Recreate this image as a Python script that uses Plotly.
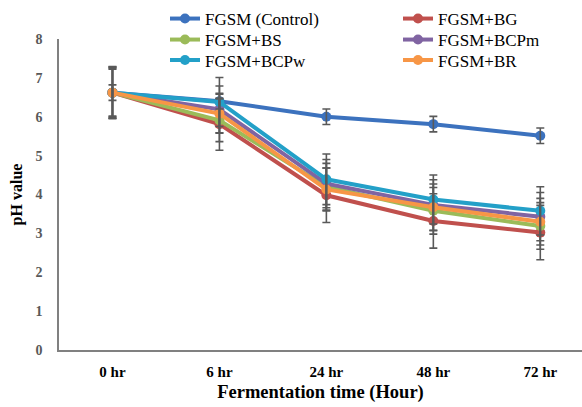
import plotly.graph_objects as go

categories = ["0 hr", "6 hr", "24 hr", "48 hr", "72 hr"]
series_names = ["FGSM (Control)", "FGSM+BG", "FGSM+BS", "FGSM+BCPm", "FGSM+BCPw", "FGSM+BR"]
control = [6.62, 6.40, 6.00, 5.81, 5.51]
bg = [6.62, 5.81, 3.98, 3.32, 3.02]
bs = [6.62, 5.91, 4.20, 3.58, 3.19]
bcpm = [6.62, 6.19, 4.28, 3.73, 3.43]
bcpw = [6.62, 6.38, 4.39, 3.87, 3.58]
br = [6.62, 6.08, 4.13, 3.67, 3.30]
err_control = [0.20, 0.20, 0.20, 0.20, 0.20]
err_bg = [0.67, 0.67, 0.70, 0.70, 0.70]
err_bs = [0.60, 0.55, 0.60, 0.60, 0.60]
err_bcpm = [0.65, 0.60, 0.62, 0.65, 0.62]
err_bcpw = [0.66, 0.63, 0.65, 0.63, 0.62]
err_br = [0.62, 0.50, 0.55, 0.60, 0.60]
y_ticks = [0, 1, 2, 3, 4, 5, 6, 7, 8]

values = [control, bg, bs, bcpm, bcpw, br]
errors = [err_control, err_bg, err_bs, err_bcpm, err_bcpw, err_br]
colors = ["#3C72BE", "#C0504D", "#9BBB59", "#8064A2", "#23A0C8", "#F79646"]

FONT = "Liberation Serif"
fig = go.Figure()
legend_ids = ["legend"] + [f"legend{i}" for i in range(2, 7)]
for name, vals, col, lg in zip(series_names, values, colors, legend_ids):
    fig.add_trace(go.Scatter(
        x=categories, y=vals, name=name, mode="lines+markers", legend=lg,
        line=dict(color=col, width=4), marker=dict(color=col, size=10),
    ))
for vals, errs in zip(values, errors):
    fig.add_trace(go.Scatter(
        x=categories, y=vals, mode="markers", showlegend=False, hoverinfo="skip",
        marker=dict(size=1, opacity=0),
        error_y=dict(type="data", array=errs, visible=True, color="#595959", thickness=1.6, width=4),
    ))

# legend placement: two columns, three rows
plot_left, plot_w, plot_top, plot_h = 59, 523, 39, 311
col_x = [165, 398]
row_y = [19, 40, 60.5]
legend_layouts = {}
for i, lg in enumerate(legend_ids):
    cx = col_x[i % 2]
    ry = row_y[i // 2]
    legend_layouts[lg] = dict(
        orientation="v", xanchor="left", yanchor="middle",
        x=(cx - plot_left) / plot_w, y=1 + (plot_top - ry) / plot_h,
        font=dict(family=FONT, size=17, color="#000000"),
        bgcolor="rgba(0,0,0,0)", borderwidth=0,
    )

fig.update_layout(
    width=582, height=407,
    margin=dict(l=59, r=0, t=39, b=57),
    paper_bgcolor="white", plot_bgcolor="white",
    font=dict(family=FONT, color="#000000"),
    xaxis=dict(
        type="category", range=[-0.5, 4.39],
        showline=True, linecolor="#808080", linewidth=1.5,
        showgrid=False, zeroline=False, ticks="",
        tickfont=dict(family=FONT, size=15, color="#000000", weight="bold"),
        ticklabelstandoff=7,
        title=dict(text="<b>Fermentation time (Hour)</b>", font=dict(family=FONT, size=18.5, color="#000000"), standoff=6),
    ),
    yaxis=dict(
        range=[0, 8], tickvals=y_ticks,
        showline=True, linecolor="#808080", linewidth=1.5,
        showgrid=False, zeroline=False, ticks="",
        tickfont=dict(family=FONT, size=14, color="#595959", weight="bold"),
        ticklabelstandoff=12,
        title=dict(text="<b>pH value</b>", font=dict(family=FONT, size=16, color="#000000"), standoff=9),
    ),
    **legend_layouts,
)
fig.write_html("out.html")
